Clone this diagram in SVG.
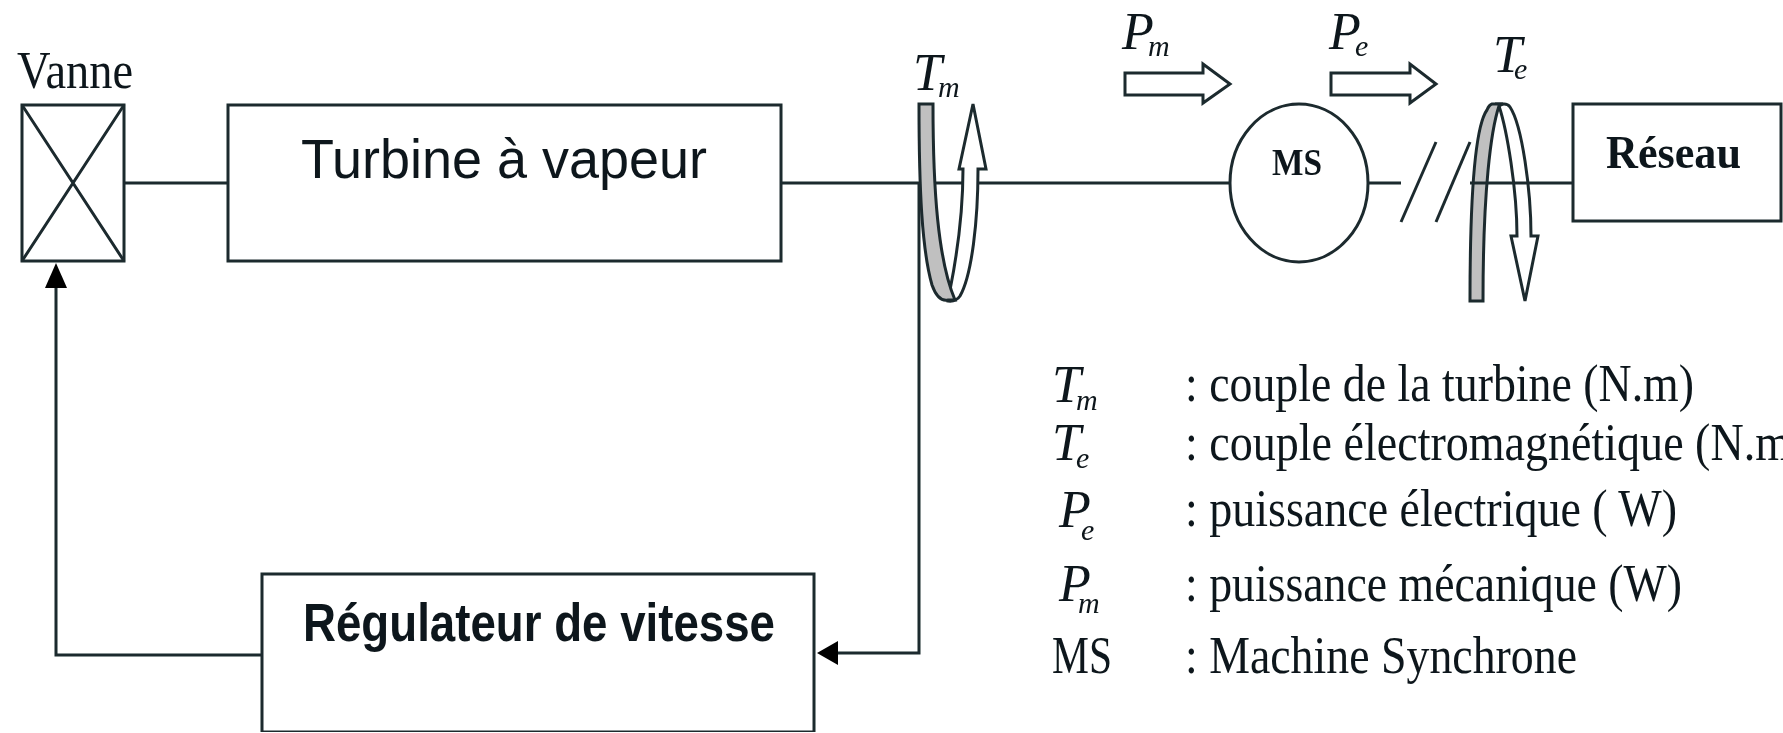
<svg xmlns="http://www.w3.org/2000/svg" width="1783" height="733" viewBox="0 0 1783 733">
<defs><filter id="soft" x="0" y="0" width="100%" height="100%" filterUnits="objectBoundingBox"><feGaussianBlur stdDeviation="0.6"/></filter></defs>
<style>
.s{fill:none;stroke:#1c2a2e;stroke-width:3}
.b{fill:#fff;stroke:#1c2a2e;stroke-width:3}
.g{fill:#c0c0c0;stroke:#1c2a2e;stroke-width:3}
.k{fill:#000;stroke:none}
text{fill:#10181c}
.t{font-family:"Liberation Serif",serif;font-size:52px}
.i{font-family:"Liberation Serif",serif;font-style:italic;font-size:52px}
.u{font-family:"Liberation Serif",serif;font-style:italic;font-size:30px}
.a{font-family:"Liberation Sans",sans-serif;font-size:56px}
.ab{font-family:"Liberation Sans",sans-serif;font-weight:bold;font-size:54px}
.tb{font-family:"Liberation Serif",serif;font-weight:bold}
</style>
<rect width="1783" height="733" fill="#fff"/>
<g filter="url(#soft)">
<g id="connectors">
<path class="s" d="M124 183H228"/>
<path class="s" d="M781 183H1230"/>
<path class="s" d="M919 183V653H836"/>
<path class="s" d="M262 655H56V286"/>
<path class="k" d="M56 263L67 288H45Z"/>
<path class="k" d="M817 653L838 641V665Z"/>
<path class="s" d="M1368 183H1401"/>
<path class="s" d="M1401 222L1436 142"/>
<path class="s" d="M1436 222L1470 142"/>
</g>
<g id="vanne">
<rect class="b" x="22" y="105" width="102" height="156"/>
<path class="s" d="M22 105L124 261M124 105L22 261"/>
<text class="t" x="17" y="88" textLength="116" lengthAdjust="spacingAndGlyphs">Vanne</text>
</g>
<g id="turbine">
<rect class="b" x="228" y="105" width="553" height="156"/>
<text class="a" x="301" y="178" textLength="406" lengthAdjust="spacingAndGlyphs">Turbine à vapeur</text>
</g>
<g id="regulateur">
<rect class="b" x="262" y="574" width="552" height="158"/>
<text class="ab" x="303" y="641" textLength="472" lengthAdjust="spacingAndGlyphs">Régulateur de vitesse</text>
</g>
<g id="couple-turbine">
<path class="b" d="M950 290C958 250 963 210 963 169H959L973 104L986 169H978C978 220 972 275 960 296Q956 302 948 301Z"/>
<path class="g" d="M919 104H933C933 190 938 260 955 300H948Q938 302 932 285C922 250 919 190 919 104Z"/>
<text class="i" x="913" y="90">T</text>
<text class="u" x="938" y="97">m</text>
</g>
<g id="fleche-pm">
<path class="b" d="M1125 73H1203V64L1230 84L1203 103V95H1125Z"/>
<text class="i" x="1122" y="49">P</text>
<text class="u" x="1148" y="56">m</text>
</g>
<g id="fleche-pe">
<path class="b" d="M1331 73H1410V64L1436 84L1410 103V95H1331Z"/>
<text class="i" x="1329" y="49">P</text>
<text class="u" x="1355" y="56">e</text>
</g>
<g id="ms">
<ellipse class="b" cx="1299" cy="183" rx="69" ry="79"/>
<text class="tb" x="1272" y="175" font-size="38" textLength="50" lengthAdjust="spacingAndGlyphs">MS</text>
</g>
<g id="couple-electro">
<path class="b" d="M1499 106C1507 130 1517 190 1517 236H1511L1525 301L1538 236H1531C1531 190 1522 125 1510 107Q1508 104 1504 104H1495Z"/>
<path class="g" d="M1492 104H1503L1499 106C1491 130 1483 190 1483 301H1470C1470 190 1476 125 1487 110Q1489 105 1492 104Z"/>
<path class="s" d="M1470 183H1573"/>
<text class="i" x="1493" y="72">T</text>
<text class="u" x="1514" y="79">e</text>
</g>
<g id="reseau">
<rect class="b" x="1573" y="104" width="208" height="117"/>
<text class="tb" x="1606" y="168" font-size="46" textLength="135" lengthAdjust="spacingAndGlyphs">Réseau</text>
</g>
<g id="legende">
<text class="i" x="1052" y="402">T</text><text class="u" x="1076" y="410">m</text>
<text class="t" x="1185" y="401" textLength="509" lengthAdjust="spacingAndGlyphs">: couple de la turbine (N.m)</text>
<text class="i" x="1052" y="460">T</text><text class="u" x="1076" y="468">e</text>
<text class="t" x="1185" y="460" textLength="606" lengthAdjust="spacingAndGlyphs">: couple électromagnétique (N.m</text>
<text class="i" x="1059" y="527">P</text><text class="u" x="1081" y="540">e</text>
<text class="t" x="1185" y="526" textLength="492" lengthAdjust="spacingAndGlyphs">: puissance électrique ( W)</text>
<text class="i" x="1059" y="601">P</text><text class="u" x="1078" y="613">m</text>
<text class="t" x="1185" y="601" textLength="497" lengthAdjust="spacingAndGlyphs">: puissance mécanique (W)</text>
<text class="t" x="1052" y="673" textLength="60" lengthAdjust="spacingAndGlyphs">MS</text>
<text class="t" x="1185" y="673" textLength="392" lengthAdjust="spacingAndGlyphs">: Machine Synchrone</text>
</g>
</g>
</svg>
